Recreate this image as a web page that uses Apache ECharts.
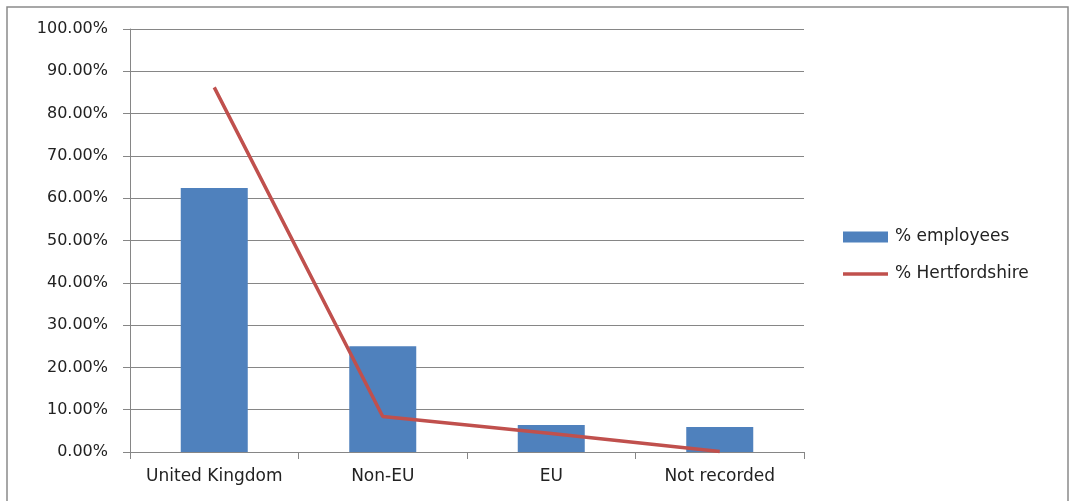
<!DOCTYPE html>
<html>
<head>
<meta charset="utf-8" />
<title>Employees by nationality</title>
<script src="https://cdn.jsdelivr.net/npm/echarts@6/dist/echarts.min.js"></script>
<style>
  html, body { margin: 0; padding: 0; background: #fff; }
  #chart { width: 1074px; height: 501px; }
</style>
</head>
<body>
<div id="chart"></div>
<script>
// categories and values (percent)
var categories = ['United Kingdom', 'Non-EU', 'EU', 'Not recorded'];
var employees = [62.4, 25.0, 6.4, 5.9];
var hertfordshire = [86.2, 8.4, 4.4, 0.1];
var yTicks = { min: 0, max: 100, step: 10 };

var chart = echarts.init(document.getElementById('chart'));
var font = 'DejaVu Sans';

chart.setOption({
  backgroundColor: '#fff',
  animation: false,
  graphic: [{
    type: 'rect',
    shape: { x: 7, y: 7, width: 1061, height: 520 },
    style: { fill: 'none', stroke: '#8a8a8a', lineWidth: 1.5 }
  }],
  grid: { left: 130, right: 270, top: 29, bottom: 49 },
  legend: {
    orient: 'vertical',
    left: 838,
    top: 222,
    itemWidth: 45,
    itemHeight: 11,
    itemGap: 17,
    textStyle: { fontFamily: font, fontSize: 17, color: '#222', lineHeight: 20, padding: [0, 0, 0, 2] },
    data: [
      { name: '% employees', icon: 'rect' },
      { name: '% Hertfordshire', icon: 'path://M0,0 L45,0 L45,3.5 L0,3.5 Z', itemStyle: { color: '#c0504d' } }
    ]
  },
  xAxis: {
    type: 'category',
    data: categories,
    axisLine: { lineStyle: { color: '#868686', width: 1 } },
    axisTick: { show: true, length: 7, interval: 0, lineStyle: { color: '#868686' } },
    axisLabel: { fontFamily: font, fontSize: 17, color: '#222', margin: 16, interval: 0 }
  },
  yAxis: {
    type: 'value',
    min: yTicks.min,
    max: yTicks.max,
    interval: yTicks.step,
    axisLine: { show: true, lineStyle: { color: '#868686', width: 1 } },
    axisTick: { show: true, length: 7, lineStyle: { color: '#868686' } },
    splitLine: { lineStyle: { color: '#868686', width: 1 } },
    axisLabel: {
      fontFamily: font, fontSize: 16, color: '#222', margin: 22,
      formatter: function(v) { return v.toFixed(2) + '%'; }
    }
  },
  series: [{
    name: '% employees',
    type: 'bar',
    barWidth: 67,
    itemStyle: { color: '#4f81bd' },
    data: employees
  }, {
    name: '% Hertfordshire',
    type: 'line',
    symbol: 'none',
    lineStyle: { color: '#c0504d', width: 3.5 },
    itemStyle: { color: '#c0504d' },
    data: hertfordshire
  }]
});
</script>
</body>
</html>
